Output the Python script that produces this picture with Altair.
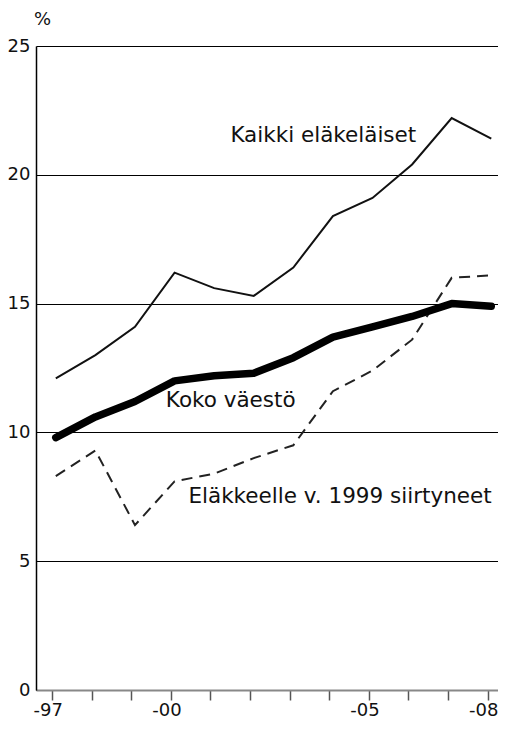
import altair as alt
import pandas as pd

years = list(range(1997, 2009))
kaikki = [12.1, 13.0, 14.1, 16.2, 15.6, 15.3, 16.4, 18.4, 19.1, 20.4, 22.2, 21.4]
koko = [9.8, 10.6, 11.2, 12.0, 12.2, 12.3, 12.9, 13.7, 14.1, 14.5, 15.0, 14.9]
siirtyneet = [8.3, 9.3, 6.4, 8.1, 8.4, 9.0, 9.5, 11.6, 12.4, 13.6, 16.0, 16.1]

series_names = ["Kaikki eläkeläiset", "Koko väestö", "Eläkkeelle v. 1999 siirtyneet"]
label_years = [2001.41, 1999.78, 2000.35]
label_values = [21.27, 11.0, 7.24]

FONT = "DejaVu Sans"

df = pd.DataFrame({
    "year": years * 3,
    "value": kaikki + koko + siirtyneet,
    "series": [series_names[0]] * 12 + [series_names[1]] * 12 + [series_names[2]] * 12,
})

x_scale = alt.Scale(domain=[1996.5, 2008.17], nice=False, zero=False)
y_scale = alt.Scale(domain=[0, 25], nice=False)

x_axis = alt.Axis(
    values=years,
    labelExpr="indexof([1997, 2000, 2005, 2008], datum.value) >= 0 ? '-' + substring(toString(datum.value), 2, 4) : ''",
    title=None, grid=False, tickOffset=-3.7, labelOffset=-4.3,
    tickSize=10, tickColor="#555555", tickWidth=1.5,
    domainColor="#888888", domainWidth=2,
    labelFont=FONT, labelFontSize=18, labelColor="#111111", labelPadding=1,
    labelFlush=False, labelOverlap=False,
)
y_axis = alt.Axis(
    values=[0, 5, 10, 15, 20, 25], title="%", titleAngle=0, titleX=6, titleY=-27,
    titleAlign="center", titleBaseline="middle", titleFont=FONT, titleFontSize=18,
    titleFontWeight="normal", titleColor="#111111",
    grid=True, gridColor="#000000", gridWidth=1, gridOpacity=1,
    ticks=False, domainColor="#000000", domainWidth=1.5,
    labelFont=FONT, labelFontSize=18, labelColor="#111111", labelPadding=6,
)

base = alt.Chart(df).encode(
    x=alt.X("year:Q", scale=x_scale, axis=x_axis),
    y=alt.Y("value:Q", scale=y_scale, axis=y_axis),
)

thin = base.transform_filter(alt.datum.series == series_names[0]).mark_line(
    color="#111111", strokeWidth=2, strokeJoin="miter")
thick = base.transform_filter(alt.datum.series == series_names[1]).mark_line(
    color="#000000", strokeWidth=7.5, strokeCap="round", strokeJoin="round")
dashed = base.transform_filter(alt.datum.series == series_names[2]).mark_line(
    color="#222222", strokeWidth=2, strokeDash=[11, 7])

labels = pd.DataFrame({"x": label_years, "y": label_values, "text": series_names})
text = alt.Chart(labels).mark_text(
    align="left", baseline="alphabetic", font=FONT, fontSize=21.5, color="#111111"
).encode(
    x=alt.X("x:Q", scale=x_scale), y=alt.Y("y:Q", scale=y_scale), text="text:N"
)

chart = alt.layer(thin, dashed, thick, text).properties(
    width=462, height=644,
    autosize=alt.AutoSizeParams(type="none"),
    padding={"left": 28, "top": 38, "right": 0, "bottom": 31},
).configure_view(stroke=None)

chart.save("out.html", embed_options={"renderer": "svg", "actions": False})
